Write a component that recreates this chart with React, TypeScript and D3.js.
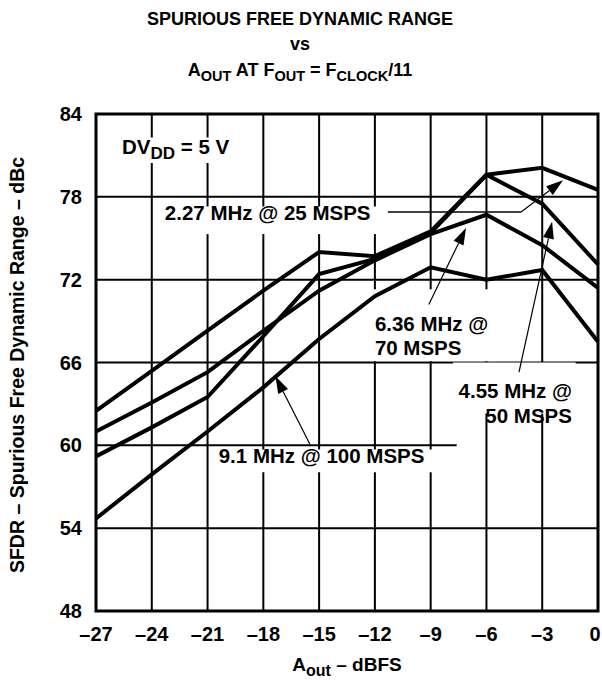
import React from "react";
import * as d3 from "d3";

const xValues = [-27, -24, -21, -18, -15, -12, -9, -6, -3, 0];
const sfdr227 = [62.5, 65.4, 68.3, 71.2, 74.0, 73.7, 75.5, 79.6, 80.1, 78.5];
const sfdr455 = [59.2, 61.3, 63.5, 67.9, 72.4, 73.5, 75.4, 79.6, 77.5, 73.1];
const sfdr636 = [61.0, 63.1, 65.3, 68.3, 71.2, 73.4, 75.3, 76.7, 74.5, 71.4];
const sfdr91 = [54.7, 57.9, 61.0, 64.2, 67.7, 70.8, 72.9, 72.0, 72.7, 67.5];
const xTicks = [-27, -24, -21, -18, -15, -12, -9, -6, -3, 0];
const yTicks = [48, 54, 60, 66, 72, 78, 84];

const W = 602, H = 685;
const FONT = "'Liberation Sans', Arial, Helvetica, sans-serif";
const DASH = "\u2013";

export default function App() {
  const x = d3.scaleLinear().domain([-27, 0]).range([96, 598]);
  const y = d3.scaleLinear().domain([48, 84]).range([611, 114]);
  const line = d3
    .line<[number, number]>()
    .x((d) => x(d[0]))
    .y((d) => y(d[1]));
  const series = [sfdr227, sfdr455, sfdr636, sfdr91];
  const fmt = (v: number) => (v < 0 ? DASH + Math.abs(v) : String(v));

  const arrow = (x1: number, y1: number, x2: number, y2: number, key: string) => {
    const px1 = x(x1), py1 = y(y1), px2 = x(x2), py2 = y(y2);
    const ang = Math.atan2(py2 - py1, px2 - px1);
    const L = 17, hw = 5.5;
    const bx = px2 - L * Math.cos(ang), by = py2 - L * Math.sin(ang);
    const nx = -Math.sin(ang), ny = Math.cos(ang);
    return (
      <g key={key}>
        <line x1={px1} y1={py1} x2={bx} y2={by} stroke="#000" strokeWidth={1.2} />
        <polygon
          points={`${px2},${py2} ${bx + nx * hw},${by + ny * hw} ${bx - nx * hw},${by - ny * hw}`}
          fill="#000"
        />
      </g>
    );
  };

  const whiteBox = (x0: number, y0: number, x1: number, y1: number, key: string) => (
    <rect key={key} x={x(x0)} y={y(y0)} width={x(x1) - x(x0)} height={y(y1) - y(y0)} fill="#fff" />
  );

  return (
    <svg
      width={W}
      height={H}
      style={{ position: "absolute", left: 0, top: 0, background: "#fff" }}
      fontFamily={FONT}
      fontWeight="bold"
    >
      <rect x={0} y={0} width={W} height={H} fill="#fff" />
      {/* Title */}
      <g textAnchor="middle" fontSize={18}>
        <text x={300} y={25}>SPURIOUS FREE DYNAMIC RANGE</text>
        <text x={300} y={50}>vs</text>
        <text x={300} y={76}>
          A<tspan fontSize={14.5} dy={5}>OUT</tspan>
          <tspan dy={-5}> AT F</tspan>
          <tspan fontSize={14.5} dy={5}>OUT</tspan>
          <tspan dy={-5}> = F</tspan>
          <tspan fontSize={14.5} dy={5}>CLOCK</tspan>
          <tspan dy={-5}>/11</tspan>
        </text>
      </g>

      {/* Grid */}
      <g stroke="#000" strokeWidth={2}>
        {yTicks.slice(1, -1).map((t) => (
          <line key={"h" + t} x1={x(-27)} x2={x(0)} y1={y(t)} y2={y(t)} />
        ))}
      </g>
      {whiteBox(-7.6, 60.15, 0, 59.85, "gap60")}
      <g stroke="#000" strokeWidth={2}>
        {xTicks.slice(1, -1).map((t) => (
          <line key={"v" + t} x1={x(t)} x2={x(t)} y1={y(48)} y2={y(84)} />
        ))}
      </g>

      {/* Label backgrounds */}
      {whiteBox(-25.85, 82.3, -19.4, 80.45, "bDV")}
      {whiteBox(-23.5, 77.3, -11.3, 75.3, "b227")}
      {whiteBox(-12.2, 71.3, -5.5, 66.1, "b636")}
      {whiteBox(-7.8, 66.0, -1.2, 62.3, "b455")}
      {whiteBox(-20.7, 59.7, -8.6, 58.05, "b91")}

      {/* Frame */}
      <rect x={x(-27)} y={y(84)} width={x(0) - x(-27)} height={y(48) - y(84)} fill="none" stroke="#000" strokeWidth={3} />

      {/* Data lines */}
      <g fill="none" stroke="#000" strokeWidth={4} strokeLinejoin="miter">
        {series.map((s, i) => (
          <path key={i} d={line(xValues.map((v, j) => [v, s[j]] as [number, number])) || ""} />
        ))}
      </g>

      {/* Axis tick labels */}
      <g fontSize={20} textAnchor="middle">
        {xTicks.map((t) => (
          <text key={"xt" + t} x={Math.min(x(t), 595)} y={641}>{fmt(t)}</text>
        ))}
      </g>
      <g fontSize={20} textAnchor="end">
        {yTicks.map((t) => (
          <text key={"yt" + t} x={82} y={y(t) + 7}>{t}</text>
        ))}
      </g>

      {/* Axis titles */}
      <text x={347} y={671} fontSize={19} textAnchor="middle">
        A<tspan fontSize={16} dy={5}>out</tspan>
        <tspan dy={-5}>{" " + DASH + " dBFS"}</tspan>
      </text>
      <text transform={`translate(24,365) rotate(-90)`} fontSize={19.5} textAnchor="middle">
        {"SFDR " + DASH + " Spurious Free Dynamic Range " + DASH + " dBc"}
      </text>

      {/* Annotations */}
      <g fontSize={20.5}>
        <text x={x(-25.6)} y={y(81.1)}>
          DV<tspan fontSize={17} dy={5}>DD</tspan>
          <tspan dy={-5}> = 5 V</tspan>
        </text>
        <text x={x(-23.3)} y={y(76.3)}>2.27 MHz @ 25 MSPS</text>
        <text x={x(-12.0)} y={y(68.3)}>6.36 MHz @</text>
        <text x={x(-12.0)} y={y(66.55)}>70 MSPS</text>
        <text x={x(-1.4)} y={y(63.4)} textAnchor="end">4.55 MHz @</text>
        <text x={x(-1.4)} y={y(61.6)} textAnchor="end">50 MSPS</text>
        <text x={x(-20.4)} y={y(58.7)}>9.1 MHz @ 100 MSPS</text>
      </g>
      <line x1={x(-11.3)} y1={y(76.9)} x2={x(-4.14)} y2={y(76.9)} stroke="#000" strokeWidth={1.5} />
      {arrow(-4.14, 76.9, -1.88, 79.2, "a227")}
      {arrow(-9.1, 70.2, -7.1, 75.75, "a636")}
      {arrow(-4.25, 65.3, -2.47, 76.2, "a455")}
      {arrow(-15.5, 60.1, -17.35, 65.0, "a91")}
    </svg>
  );
}
